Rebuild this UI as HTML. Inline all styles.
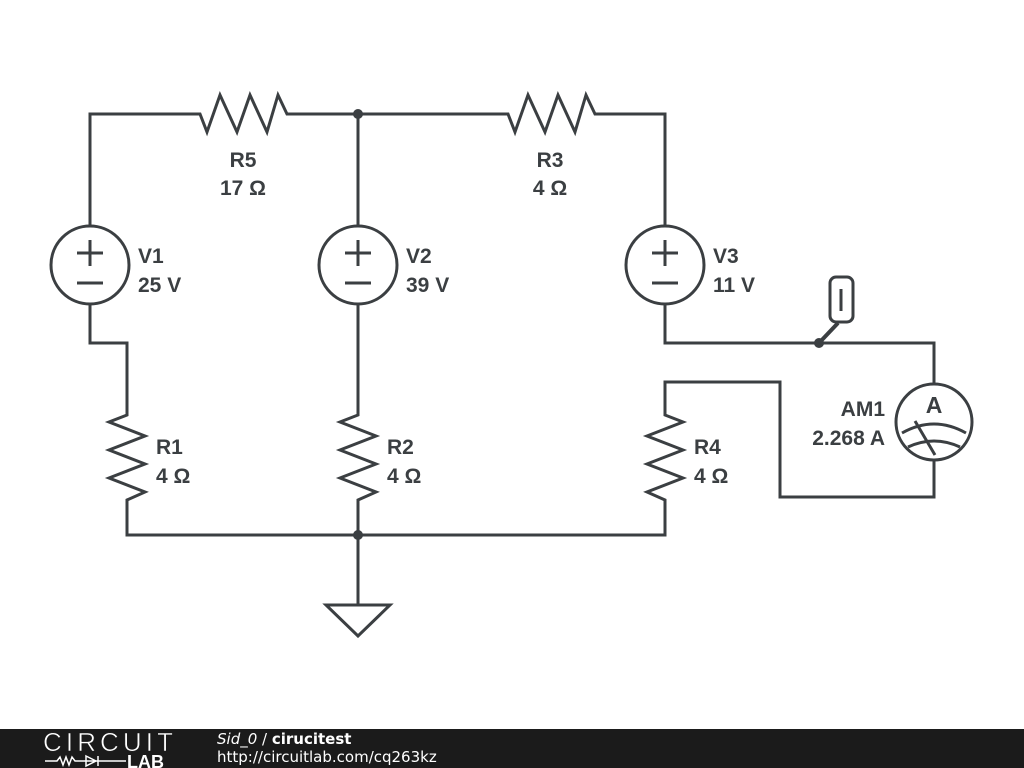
<!DOCTYPE html>
<html><head><style>
body{margin:0;width:1024px;height:768px;background:#fff;overflow:hidden;position:relative;font-family:"Liberation Sans","DejaVu Sans",sans-serif}
svg{position:absolute;left:0;top:0}
.foot{position:absolute;left:0;top:729px;width:1024px;height:39px;background:#1b1b1b}
</style></head><body>
<svg width="1024" height="768" viewBox="0 0 1024 768">
<g fill="none" stroke="#3b3f42" stroke-width="3" stroke-linejoin="miter">
<polyline points="90,227 90,114 200,114 207,132 220,95 237,132 250,95 267,132 278,95 287,114 508,114 515,132 528,95 545,132 558,95 575,132 586,95 595,114 665,114 665,227"/>
<line x1="358" y1="114" x2="358" y2="227"/>
<polyline points="90,303 90,343 127,343 127,415 109,422 145,436 109,450 145,464 109,478 145,492 127,500 127,535 665,535 665,500 647,492 683,478 647,464 683,450 647,436 683,422 665,415 665,382 780,382 780,497 934,497 934,460"/>
<polyline points="358,303 358,415 340,422 376,436 340,450 376,464 340,478 376,492 358,500 358,605"/>
<polyline points="665,303 665,343 934,343 934,384"/>
<polygon points="326,605 390,605 358,636"/>
<circle cx="90" cy="265" r="39"/><circle cx="358" cy="265" r="39"/><circle cx="665" cy="265" r="39"/>
<circle cx="934" cy="422" r="38"/>
<path d="M902,433 Q934,415 966,433 M908,447 Q934,435 960,447 M915,421 L935,455"/>
<rect x="830" y="277" width="23" height="45" rx="6"/>
<line x1="841" y1="289" x2="841" y2="311"/>
<line x1="819" y1="343" x2="838" y2="323" stroke-width="4"/>
<path d="M77,253h26M90,240v26M77,283h26M345,253h26M358,240v26M345,283h26M652,253h26M665,240v26M652,283h26"/>
</g>
<g fill="#3b3f42"><circle cx="358" cy="114" r="5"/><circle cx="358" cy="535" r="5"/><circle cx="819" cy="343" r="5"/></g>
<g fill="#3b3f42" font-family="Liberation Sans, sans-serif" font-weight="bold" font-size="21">
<text x="243" y="167" text-anchor="middle">R5</text><text x="243" y="195" text-anchor="middle">17 Ω</text>
<text x="550" y="167" text-anchor="middle">R3</text><text x="550" y="195" text-anchor="middle">4 Ω</text>
<text x="138" y="263">V1</text><text x="138" y="292">25 V</text>
<text x="406" y="263">V2</text><text x="406" y="292">39 V</text>
<text x="713" y="263">V3</text><text x="713" y="292">11 V</text>
<text x="156" y="454">R1</text><text x="156" y="483">4 Ω</text>
<text x="387" y="454">R2</text><text x="387" y="483">4 Ω</text>
<text x="694" y="454">R4</text><text x="694" y="483">4 Ω</text>
<text x="885" y="416" text-anchor="end">AM1</text><text x="885" y="445" text-anchor="end">2.268 A</text>
<text x="934" y="413" text-anchor="middle" font-size="23">A</text>
</g>
</svg>
<div class="foot">
<svg width="200" height="39" viewBox="0 0 200 39">
<text x="43" y="22" fill="#fff" font-family="Liberation Sans, sans-serif" font-size="26" textLength="130" stroke="#1b1b1b" stroke-width="0.6">CIRCUIT</text>
<path d="M45,32h12l3,-4 3,8 3,-8 3,8 3,-8 3,4h28M98,27v10M86,27l10,5-10,5zM98,32h28" stroke="#fff" stroke-width="1.5" fill="none"/>
<text x="127" y="39" fill="#fff" font-family="Liberation Sans, sans-serif" font-size="18" font-weight="bold">LAB</text>
</svg>
<div style="position:absolute;left:217px;top:1px;color:#fff;font-family:'DejaVu Sans',sans-serif;font-size:15px;line-height:18px"><i>Sid_0</i> / <b>cirucitest</b><br>http://circuitlab.com/cq263kz</div>
</div>
</body></html>
